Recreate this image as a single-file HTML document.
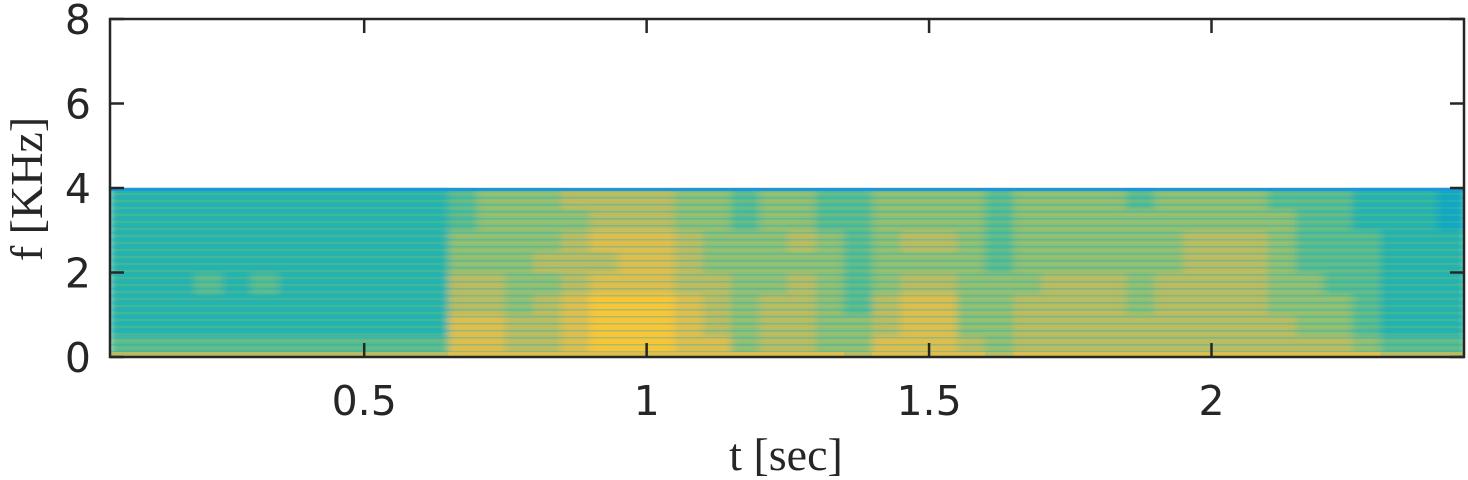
<!DOCTYPE html>
<html><head><meta charset="utf-8"><style>
html,body{margin:0;padding:0;background:#fff}
svg{display:block}
.tk{font-family:"DejaVu Sans","Liberation Sans",sans-serif;font-size:41px;fill:#262626}
.lb{font-family:"Liberation Serif","DejaVu Serif",serif;font-size:46px;fill:#262626}
</style></head><body>
<svg id="chart" width="1468" height="480" viewBox="0 0 1468 480">
<defs>
<filter id="soft" x="0" y="0" width="1" height="1"><feGaussianBlur stdDeviation="4 1.5"/></filter>
<pattern id="stripes" width="11" height="7" patternUnits="userSpaceOnUse">
<rect x="0" y="1" width="11" height="1.5" fill="#1fa7c8" opacity="0.35"/>
<rect x="0" y="4.5" width="11" height="1" fill="#f7c233" opacity="0.25"/>
</pattern>
<clipPath id="plotclip"><rect x="110" y="19" width="1354" height="338"/></clipPath>
</defs>
<g id="heat" clip-path="url(#plotclip)"></g>
<g id="axes"></g>
</svg>
<script>
// time bins start (sec), each 0.05 s wide; frequency bins 0.5 kHz (row 0 = 0-0.5 kHz)
const timeStart = 0.05, timeStep = 0.05;
const freqStep = 0.5;
const levelRows = [
 "555555555555 88778999886 776 6 8887 6 77777 777777 76 555",
 "444444444444 88778999876 776 6 7886 6 77777 777776 65 444",
 "444444444444 77678999876 776 5 7886 6 77776 777766 65 444",
 "444545444444 77667888776 676 5 6776 6 67776 777766 55 444",
 "444444444444 66677788766 666 5 6666 5 66666 677765 55 444",
 "444444444444 66667888766 676 5 6776 5 66666 677765 55 444",
 "444444444444 56666777665 665 5 6666 5 66666 666665 54 443",
 "444444444444 56667777665 665 5 6666 5 66665 666655 54 443"
];
const dcLevel = [7,7,7,7,7,7,7,7,7,7,7,7,8,8,8,8,8,8,8,8,8,8,8,8,8,8,7,8,8,8,8,7,8,8,8,8,8,8,8,8,8,8,8,8,8,7,7,7];
const xTicks = [0.5, 1, 1.5, 2];
const xTickLabels = ["0.5","1","1.5","2"];
const yTicks = [0, 2, 4, 6, 8];
const yTickLabels = ["0","2","4","6","8"];

const L=110,R=1464,T=19,B=357, tMin=0.05, tMax=2.447, fMin=0, fMax=8;
const xs = t => L + (t - tMin)/(tMax - tMin)*(R - L);
const ys = f => B - (f - fMin)/(fMax - fMin)*(B - T);
const stops=[[0,[53,42,135]],[0.125,[15,92,221]],[0.25,[20,129,214]],[0.375,[6,164,202]],[0.5,[46,183,164]],[0.625,[135,191,119]],[0.75,[209,187,89]],[0.875,[254,200,50]],[1,[249,251,14]]];
function parula(x){x=Math.max(0,Math.min(1,x));for(let i=1;i<stops.length;i++){if(x<=stops[i][0]){const a=stops[i-1],b=stops[i],u=(x-a[0])/(b[0]-a[0]);return 'rgb('+a[1].map((c,k)=>Math.round(c+(b[1][k]-c)*u)).join(',')+')';}}return 'rgb(249,251,14)';}
const lvl = v => parula(0.48 + (v-4)*0.075);
const NS='http://www.w3.org/2000/svg';
function mk(tag,attrs,parent){const e=document.createElementNS(NS,tag);for(const k in attrs)e.setAttribute(k,attrs[k]);parent.appendChild(e);return e;}
const heat=document.getElementById('heat');
const cells=mk('g',{filter:'url(#soft)'},heat);


levelRows.forEach((row,r)=>{
  const s=row.replace(/ /g,'');
  for(let i=0;i<s.length;i++){
    const v=+s[i];
    const t0=timeStart+i*timeStep, f0=r*freqStep;
    const c=mk('rect',{x:xs(t0)-0.5,y:ys(f0+freqStep)-0.5,width:xs(t0+timeStep)-xs(t0)+1,height:ys(f0)-ys(f0+freqStep)+1,fill:lvl(v)},cells);
    
    
  }
});
mk('rect',{x:L,y:ys(4),width:R-L,height:ys(0)-ys(4),fill:'url(#stripes)'},heat);
const edgeBar=mk('rect',{x:L,y:ys(4),width:R-L,height:3,fill:'#1f95dc'},heat);


dcLevel.forEach((v,i)=>{
  const t0=timeStart+i*timeStep;
  const d=mk('rect',{x:xs(t0)-0.5,y:ys(0.12),width:xs(t0+timeStep)-xs(t0)+1,height:ys(0)-ys(0.12),fill:lvl(v)},heat);
  
  
});
const ax=document.getElementById('axes');
const frame=mk('rect',{x:L,y:T,width:R-L,height:B-T,fill:'none',stroke:'#262626','stroke-width':2.5},ax);


xTicks.forEach((t,i)=>{
  const x=xs(t);
  const a=mk('line',{x1:x,y1:B,x2:x,y2:B-14,stroke:'#262626','stroke-width':2.5},ax);
  
  
  const b=mk('line',{x1:x,y1:T,x2:x,y2:T+14,stroke:'#262626','stroke-width':2.5},ax);
  
  
  const tx=mk('text',{x:x,y:415,'text-anchor':'middle',class:'tk'},ax);
  tx.textContent=xTickLabels[i];
  
  
});
yTicks.forEach((f,i)=>{
  const y=ys(f);
  const a=mk('line',{x1:L,y1:y,x2:L+14,y2:y,stroke:'#262626','stroke-width':2.5},ax);
  
  
  const b=mk('line',{x1:R,y1:y,x2:R-14,y2:y,stroke:'#262626','stroke-width':2.5},ax);
  
  
  const tx=mk('text',{x:91,y:y+15,'text-anchor':'end',class:'tk'},ax);
  tx.textContent=yTickLabels[i];
  
  
});
const xl=mk('text',{x:786,y:470,'text-anchor':'middle',class:'lb'},ax);
xl.textContent='t [sec]';


const yl=mk('text',{x:0,y:0,'text-anchor':'middle',class:'lb',transform:'translate(42,189) rotate(-90)'},ax);
yl.textContent='f [KHz]';


</script>
</body></html>
